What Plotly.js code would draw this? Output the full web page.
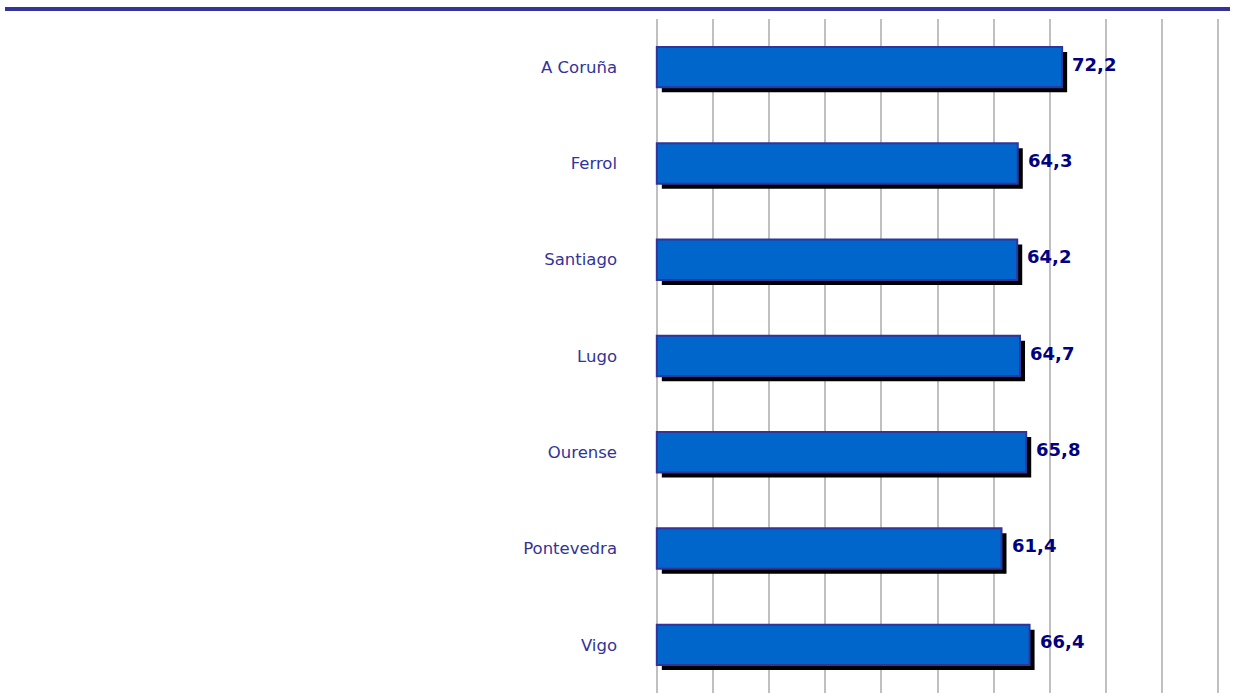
<!DOCTYPE html>
<html>
<head>
<meta charset="utf-8">
<script src="https://cdn.plot.ly/plotly-3.0.1.min.js"></script>
<style>html,body{margin:0;padding:0;background:#fff;}#chart{width:1236px;height:693px;}</style>
</head>
<body>
<div id="chart"></div>
<script>
var categories = ["A Coruña", "Ferrol", "Santiago", "Lugo", "Ourense", "Pontevedra", "Vigo"];
var values = [72.2, 64.3, 64.2, 64.7, 65.8, 61.4, 66.4];

var W = 1236, H = 693;
var mL = 654, mR = 15, mT = 19, mB = 0;
var plotW = W - mL - mR, plotH = H - mT - mB;
var xMin = -0.5, xMax = 100.5;
var pxPerUnitX = plotW / (xMax - xMin);
var pxPerCat = plotH / categories.length;
var shadowPx = 5;
var barWidth = 0.42;

var labels = values.map(function (v) { return v.toFixed(1).replace('.', ','); });

var shadow = {
  type: 'bar', orientation: 'h',
  y: categories, x: values,
  base: shadowPx / pxPerUnitX,
  width: barWidth,
  offset: -barWidth / 2 + shadowPx / pxPerCat,
  marker: {color: '#000000', line: {width: 0}},
  hoverinfo: 'skip', showlegend: false
};
var bars = {
  type: 'bar', orientation: 'h',
  y: categories, x: values,
  width: barWidth,
  marker: {color: '#0066cc', line: {color: '#333399', width: 2}},
  showlegend: false
};

var annotations = values.map(function (v, i) {
  return {
    x: v, y: categories[i], xref: 'x', yref: 'y',
    text: labels[i], showarrow: false,
    xanchor: 'left', yanchor: 'middle',
    xshift: 8, yshift: 3,
    font: {family: 'DejaVu Sans, Verdana, sans-serif', size: 18, color: '#000080', weight: 'bold'}
  };
});

var layout = {
  width: W, height: H,
  margin: {l: mL, r: mR, t: mT, b: mB, pad: 0},
  paper_bgcolor: '#ffffff', plot_bgcolor: '#ffffff',
  barmode: 'overlay',
  showlegend: false,
  xaxis: {
    range: [xMin, xMax], dtick: 10, tick0: 0,
    showgrid: true, gridcolor: '#c0c0c0', gridwidth: 2,
    zeroline: false, showline: false, showticklabels: false, ticks: '',
    fixedrange: true
  },
  yaxis: {
    type: 'category', autorange: 'reversed',
    showgrid: false, zeroline: false, showline: false, ticks: '',
    ticklabelstandoff: 36,
    tickfont: {family: 'DejaVu Sans, Verdana, sans-serif', size: 16.5, color: '#333399'},
    fixedrange: true
  },
  shapes: [{
    type: 'line', xref: 'paper', yref: 'paper',
    x0: (5 - mL) / plotW, x1: (1230 - mL) / plotW,
    y0: 1 + (mT - 9) / plotH, y1: 1 + (mT - 9) / plotH,
    line: {color: '#333399', width: 4}
  }],
  annotations: annotations
};

Plotly.newPlot('chart', [shadow, bars], layout, {displayModeBar: false, staticPlot: true});
</script>
</body>
</html>
